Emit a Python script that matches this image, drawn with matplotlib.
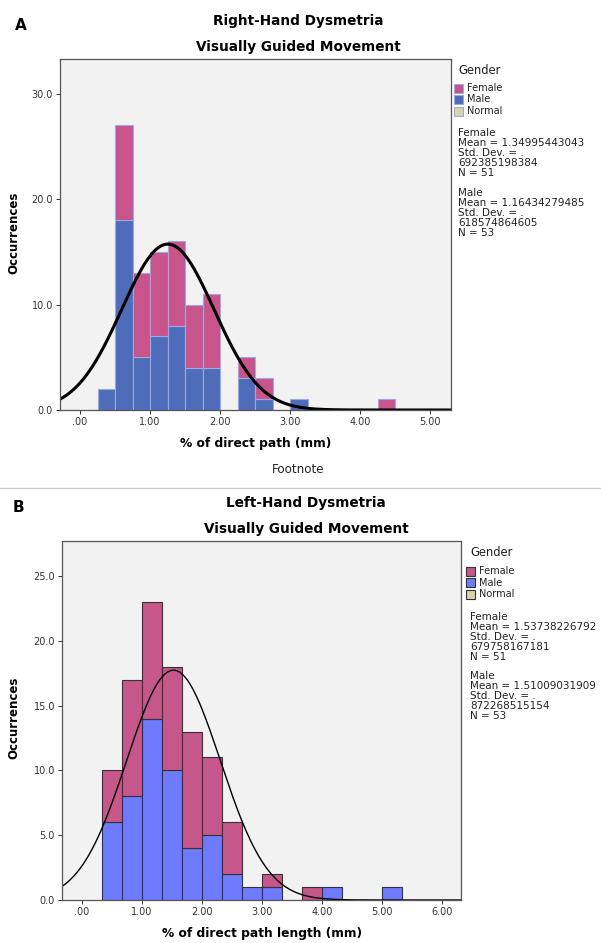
import numpy as np
import matplotlib.pyplot as plt
from matplotlib.patches import Rectangle

# panel A: right hand, bins of width 0.25
a_bin_start = [0.25, 0.50, 0.75, 1.00, 1.25, 1.50, 1.75, 2.00, 2.25, 2.50,
               2.75, 3.00, 3.25, 3.50, 3.75, 4.00, 4.25]
a_male = [2, 18, 5, 7, 8, 4, 4, 0, 3, 1, 0, 1, 0, 0, 0, 0, 0]
a_female = [0, 9, 8, 8, 8, 6, 7, 0, 2, 2, 0, 0, 0, 0, 0, 0, 1]
a_curve_mean = 1.255
a_curve_sd = 0.659
a_xticks = [0, 1, 2, 3, 4, 5]
a_xticklabels = ['.00', '1.00', '2.00', '3.00', '4.00', '5.00']
a_yticks = [0, 10, 20, 30]

# panel B: left hand, bins of width 1/3
b_bin_start = [0.3333, 0.6667, 1.0, 1.3333, 1.6667, 2.0, 2.3333, 2.6667,
               3.0, 3.3333, 3.6667, 4.0, 4.3333, 4.6667, 5.0]
b_male = [6, 8, 14, 10, 4, 5, 2, 1, 1, 0, 0, 1, 0, 0, 1]
b_female = [4, 9, 9, 8, 9, 6, 4, 0, 1, 0, 1, 0, 0, 0, 0]
b_curve_mean = 1.523
b_curve_sd = 0.780
b_xticks = [0, 1, 2, 3, 4, 5, 6]
b_xticklabels = ['.00', '1.00', '2.00', '3.00', '4.00', '5.00', '6.00']
b_yticks = [0, 5, 10, 15, 20, 25]

a_stats = ['Female', 'Mean = 1.34995443043', 'Std. Dev. = .', '692385198384', 'N = 51',
           'Male', 'Mean = 1.16434279485', 'Std. Dev. = .', '618574864605', 'N = 53']
b_stats = ['Female', 'Mean = 1.53738226792', 'Std. Dev. = .', '679758167181', 'N = 51',
           'Male', 'Mean = 1.51009031909', 'Std. Dev. = .', '872268515154', 'N = 53']
legend_names = ['Female', 'Male', 'Normal']

W, H = 601, 943
fig = plt.figure(figsize=(W / 100, H / 100), dpi=100)


def fx(px):
    return px / W


def fy(py):
    return 1 - py / H


def panel(rect, starts, width, male, female, male_col, female_col, edge_col, edge_lw,
          mu, sd, curve_lw, xlim, ylim, xticks, xticklabels, yticks):
    left, top, right, bottom = rect
    ax = fig.add_axes([fx(left), fy(bottom), (right - left) / W, (bottom - top) / H])
    ax.set_facecolor('#F2F2F2')
    starts = np.array(starts)
    male = np.array(male)
    female = np.array(female)
    m = male > 0
    f = female > 0
    # stacked: male at the bottom, female on top
    ax.bar(starts[m], male[m], width=width, align='edge', color=male_col,
           edgecolor=edge_col, linewidth=edge_lw)
    ax.bar(starts[f], female[f], width=width, bottom=male[f], align='edge',
           color=female_col, edgecolor=edge_col, linewidth=edge_lw)
    n = male.sum() + female.sum()
    xs = np.linspace(xlim[0], xlim[1], 400)
    ys = n * width * np.exp(-0.5 * ((xs - mu) / sd) ** 2) / (sd * np.sqrt(2 * np.pi))
    ax.plot(xs, ys, color='black', linewidth=curve_lw)
    ax.set_xlim(xlim)
    ax.set_ylim(ylim)
    ax.set_xticks(xticks)
    ax.set_xticklabels(xticklabels)
    ax.set_yticks(yticks)
    ax.set_yticklabels(['%.1f' % v for v in yticks])
    ax.tick_params(labelsize=7, length=3, width=0.7, colors='#333333', pad=2)
    for s in ax.spines.values():
        s.set_color('#555555')
        s.set_linewidth(0.9)
    return ax


panel((60, 59, 451, 410), a_bin_start, 0.25, a_male, a_female,
      '#4E6CBA', '#C8548B', '#9EA9E2', 0.8, a_curve_mean, a_curve_sd, 2.2,
      (-0.286, 5.30), (0, 33.3), a_xticks, a_xticklabels, a_yticks)
panel((62, 541, 461, 900), b_bin_start, 1 / 3, b_male, b_female,
      '#6F7BFF', '#C5578A', '#333333', 0.8, b_curve_mean, b_curve_sd, 1.0,
      (-0.333, 6.31), (0, 27.7), b_xticks, b_xticklabels, b_yticks)

# titles and labels
fig.text(fx(21), fy(25), 'A', fontsize=11, fontweight='bold', ha='center', va='center')
fig.text(fx(298), fy(21), 'Right-Hand Dysmetria', fontsize=9.8, fontweight='bold',
         ha='center', va='center')
fig.text(fx(298), fy(47), 'Visually Guided Movement', fontsize=9.8, fontweight='bold',
         ha='center', va='center')
fig.text(fx(14), fy(233), 'Occurrences', fontsize=8.5, fontweight='bold', rotation=90,
         ha='center', va='center')
fig.text(fx(256), fy(443), '% of direct path (mm)', fontsize=8.8, fontweight='bold',
         ha='center', va='center')
fig.text(fx(298), fy(469), 'Footnote', fontsize=8.6, ha='center', va='center',
         color='#222222')

fig.add_artist(plt.Line2D([0, 1], [fy(488), fy(488)], color='#CCCCCC', linewidth=1))

fig.text(fx(18), fy(507), 'B', fontsize=11, fontweight='bold', ha='center', va='center')
fig.text(fx(306), fy(503), 'Left-Hand Dysmetria', fontsize=9.8, fontweight='bold',
         ha='center', va='center')
fig.text(fx(306), fy(529), 'Visually Guided Movement', fontsize=9.8, fontweight='bold',
         ha='center', va='center')
fig.text(fx(14), fy(718), 'Occurrences', fontsize=8.5, fontweight='bold', rotation=90,
         ha='center', va='center')
fig.text(fx(262), fy(933), '% of direct path length (mm)', fontsize=8.8, fontweight='bold',
         ha='center', va='center')


def legend(x0, y_gender, y_patch, colors, edge, y_stats, stats):
    fig.text(fx(x0), fy(y_gender), 'Gender', fontsize=8.3, ha='left', va='center',
             color='#222222')
    for i, (name, col) in enumerate(zip(legend_names, colors)):
        yy = y_patch + i * 11.5
        fig.add_artist(Rectangle((fx(x0 - 4), fy(yy + 4.5)), 9 / W, 9 / H,
                                 facecolor=col, edgecolor=edge, linewidth=0.8,
                                 transform=fig.transFigure))
        fig.text(fx(x0 + 9), fy(yy), name, fontsize=7, ha='left', va='center',
                 color='#222222')
    for i, line in enumerate(stats):
        yy = y_stats + i * 10 + (9 if i >= 5 else 0)
        fig.text(fx(x0), fy(yy), line, fontsize=7.5, ha='left', va='center',
                 color='#222222')


legend(458, 70, 88, ['#C8548B', '#4E6CBA', '#D9D3A8'], '#9EA9E2', 133.5, a_stats)
legend(470, 553, 571, ['#C5578A', '#6F7BFF', '#D9D3A8'], '#333333', 617, b_stats)

fig.savefig('out.png', dpi=100)
